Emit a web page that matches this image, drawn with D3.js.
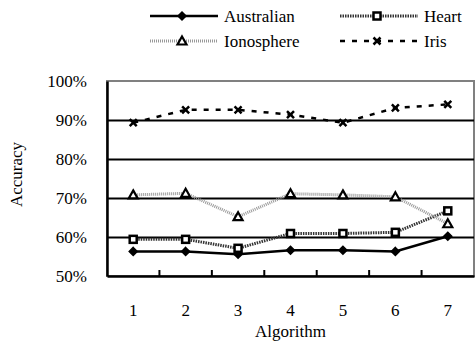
<!DOCTYPE html>
<meta charset="utf-8">
<style>
body { margin: 0; background: #fff; }
.grid line { stroke: #000; stroke-width: 2px; }
.grid path { stroke-width: 0; }
</style>
<body>
<script src="https://d3js.org/d3.v7.min.js"></script>
<script>

var algorithms = [1, 2, 3, 4, 5, 6, 7];
var yTicks = [0.5, 0.6, 0.7, 0.8, 0.9, 1.0];

var australian = [0.563, 0.563, 0.556, 0.566, 0.566, 0.563, 0.602];
var heart      = [0.594, 0.594, 0.571, 0.609, 0.609, 0.612, 0.667];
var ionosphere = [0.708, 0.712, 0.652, 0.711, 0.708, 0.703, 0.634];
var iris       = [0.893, 0.926, 0.926, 0.914, 0.893, 0.931, 0.940];

var series = [
  {name: "Australian", values: australian, stroke: "#000", dash: null, width: 2.5, marker: "diamond"},
  {name: "Heart", values: heart, stroke: "#333", dash: "1.5,1", width: 3, marker: "square"},
  {name: "Ionosphere", values: ionosphere, stroke: "#999", dash: "1,1", width: 3, marker: "triangle"},
  {name: "Iris", values: iris, stroke: "#000", dash: "5,7", width: 2.5, marker: "cross"}
];

var FONT = "'Liberation Serif'";

var margin = {top: 81, right: 2, bottom: 69, left: 107},
    W = 476, H = 345,
    width = W - margin.left - margin.right,
    height = H - margin.top - margin.bottom;

var svg = d3.select("body").append("svg")
    .attr("width", W)
    .attr("height", H);

var g = svg.append("g")
    .attr("transform", "translate(" + margin.left + "," + margin.top + ")");

var x = d3.scaleBand().domain(algorithms).range([0, width]);
var y = d3.scaleLinear().domain([0.5, 1.0]).range([height, 0]);

// plot border (gray top/right)
g.append("rect")
    .attr("width", width)
    .attr("height", height)
    .attr("fill", "none")
    .attr("stroke", "#808080")
    .attr("stroke-width", 2);

// gridlines
g.append("g")
    .attr("class", "grid")
    .call(d3.axisLeft(y).tickValues([0.6, 0.7, 0.8, 0.9]).tickSize(-width).tickFormat(""));

// y axis
var yAxis = g.append("g")
    .call(d3.axisLeft(y).tickValues(yTicks).tickSize(0).tickPadding(20).tickFormat(d3.format(".0%")));
yAxis.select(".domain").attr("stroke", "#000").attr("stroke-width", 2.5);
yAxis.selectAll("text").style("font-family", FONT).style("font-size", "17px");

// x axis, ticks pointing inward at band edges
var xAxis = g.append("g")
    .attr("transform", "translate(0," + height + ")")
    .call(d3.axisBottom(x).tickSize(0).tickPadding(28));
xAxis.select(".domain").attr("stroke", "#000").attr("stroke-width", 2.5);
xAxis.selectAll("text").style("font-family", FONT).style("font-size", "17px");

g.append("g").selectAll("line")
    .data(algorithms.slice(1))
    .join("line")
    .attr("x1", function(d) { return x(d); })
    .attr("x2", function(d) { return x(d); })
    .attr("y1", height)
    .attr("y2", height - 6)
    .attr("stroke", "#000")
    .attr("stroke-width", 2);

// axis titles
svg.append("text")
    .attr("x", margin.left + width / 2)
    .attr("y", 337)
    .attr("text-anchor", "middle")
    .style("font-family", FONT).style("font-size", "17px")
    .text("Algorithm");

svg.append("text")
    .attr("transform", "translate(22," + (margin.top + height / 2 - 4) + ") rotate(-90)")
    .attr("text-anchor", "middle")
    .style("font-family", FONT).style("font-size", "17px")
    .text("Accuracy");

function drawMarker(sel, type) {
  if (type === "diamond") {
    sel.append("path")
      .attr("d", "M0,-4L4,0L0,4L-4,0Z")
      .attr("fill", "#000").attr("stroke", "#000").attr("stroke-width", 1.5);
  } else if (type === "square") {
    sel.append("rect")
      .attr("x", -3.5).attr("y", -3.5).attr("width", 7).attr("height", 7)
      .attr("fill", "#fff").attr("stroke", "#000").attr("stroke-width", 2.5);
  } else if (type === "triangle") {
    sel.append("path")
      .attr("d", "M0,-4.5L4.5,3.5L-4.5,3.5Z")
      .attr("fill", "#fff").attr("stroke", "#000").attr("stroke-width", 2.2);
  } else {
    sel.append("path")
      .attr("d", "M-3.5,-3.5L3.5,3.5M-3.5,3.5L3.5,-3.5")
      .attr("stroke", "#000").attr("stroke-width", 2.5);
  }
}

var line = d3.line()
    .x(function(d, i) { return x(algorithms[i]) + x.bandwidth() / 2; })
    .y(function(d) { return y(d); });

series.forEach(function(s) {
  g.append("path")
    .datum(s.values)
    .attr("fill", "none")
    .attr("stroke", s.stroke)
    .attr("stroke-width", s.width)
    .attr("stroke-dasharray", s.dash)
    .attr("d", line);
  s.values.forEach(function(v, i) {
    var m = g.append("g")
      .attr("transform", "translate(" + (x(algorithms[i]) + x.bandwidth() / 2) + "," + y(v) + ")");
    drawMarker(m, s.marker);
  });
});

// legend
var legendPos = [
  {x: 150, y: 16, len: 68}, {x: 340, y: 16, len: 78},
  {x: 150, y: 41, len: 68}, {x: 340, y: 41, len: 78}
];
series.forEach(function(s, i) {
  var p = legendPos[i];
  var lg = svg.append("g").attr("transform", "translate(" + p.x + "," + p.y + ")");
  lg.append("line")
    .attr("x1", 0).attr("x2", p.len)
    .attr("stroke", s.stroke)
    .attr("stroke-width", s.width)
    .attr("stroke-dasharray", s.dash);
  drawMarker(lg.append("g").attr("transform", "translate(" + (p.len / 2 - 2) + ",0)"), s.marker);
  lg.append("text")
    .attr("x", p.len + 6)
    .attr("y", 6)
    .style("font-family", FONT).style("font-size", "17px")
    .text(s.name);
});

</script>
</body>
